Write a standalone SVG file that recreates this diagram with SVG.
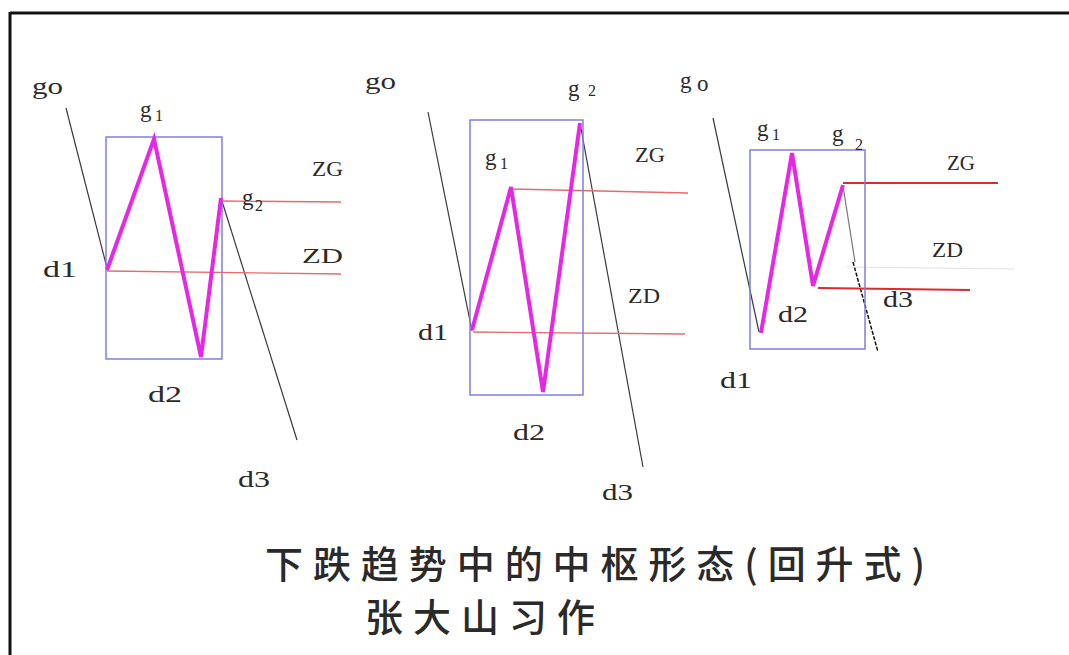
<svg xmlns="http://www.w3.org/2000/svg" width="1069" height="655" viewBox="0 0 1069 655">
<style>
.lbl{font-family:"Liberation Serif","Times New Roman",serif;font-size:23px;fill:#2a2a2a}
.sub{font-family:"Liberation Serif","Times New Roman",serif;font-size:16px;fill:#2a2a2a}
.cap{font-family:"Liberation Serif","Times New Roman",serif;font-size:20px;fill:#2a2a2a}
.box{fill:none;stroke:#7f7fe0;stroke-width:1.5}
.zig{fill:none;stroke:#e628e6;stroke-width:4;stroke-linejoin:miter}
.blk{fill:none;stroke:#3a3a3a;stroke-width:1.2}
.red{fill:none;stroke:#e86a6a;stroke-width:1.3}
.red2{fill:none;stroke:#dd2a2a;stroke-width:2}
.title{font-family:"Noto Sans CJK SC","Noto Sans",sans-serif;font-size:38px;fill:#2a2a2a;font-weight:500}
</style>
<rect width="1069" height="655" fill="#ffffff"/>
<g id="frame">
<line x1="10" y1="13" x2="1069" y2="13" stroke="#111" stroke-width="3"/>
<line x1="10" y1="12" x2="10" y2="655" stroke="#111" stroke-width="3"/>
</g>

<g id="connectors">
<line class="blk" x1="66" y1="108" x2="107" y2="268"/>
<line class="blk" x1="221" y1="198" x2="297" y2="440"/>
<line class="red" x1="222" y1="201" x2="341" y2="202"/>
<line class="red" x1="107" y1="271" x2="341" y2="274"/>
<line class="blk" x1="428" y1="112" x2="472" y2="331"/>
<line class="blk" x1="580" y1="123" x2="643" y2="467"/>
<line class="red" x1="512" y1="189" x2="688" y2="193"/>
<line class="red" x1="473" y1="332" x2="685" y2="334"/>
<line class="blk" x1="713" y1="118" x2="759" y2="332"/>
<line x1="843" y1="186" x2="855" y2="262" stroke="#777" stroke-width="1.2"/>
<line x1="853" y1="262" x2="878" y2="352" stroke="#111" stroke-width="1.5" stroke-dasharray="4,1.5"/>
<line class="red2" x1="843" y1="183" x2="998" y2="183"/>
<line x1="847" y1="267" x2="1015" y2="269" stroke="#e2e2e2" stroke-width="1.2"/>
<line class="red2" x1="818" y1="288" x2="970" y2="290"/>
</g>

<g id="panel1">
<rect class="box" x="106" y="137" width="116" height="222"/>
<polyline class="zig" points="107,270 154,139 201,357 221,198"/>
<text class="lbl" x="32" y="94" textLength="31" lengthAdjust="spacingAndGlyphs">go</text>
<text class="lbl" x="140" y="117">g</text><text class="sub" x="155" y="121">1</text>
<text class="cap" x="312" y="176" textLength="31" lengthAdjust="spacingAndGlyphs">ZG</text>
<text class="lbl" x="242" y="205">g</text><text class="sub" x="255" y="211">2</text>
<text class="cap" x="302" y="263" textLength="41" lengthAdjust="spacingAndGlyphs">ZD</text>
<text class="lbl" x="43" y="277" textLength="34" lengthAdjust="spacingAndGlyphs">d1</text>
<text class="lbl" x="148" y="402" textLength="34" lengthAdjust="spacingAndGlyphs">d2</text>
<text class="lbl" x="238" y="487" textLength="32" lengthAdjust="spacingAndGlyphs">d3</text>
</g>

<g id="panel2">
<rect class="box" x="470" y="120" width="113" height="275"/>
<polyline class="zig" points="472,330 511,187 543,392 580,123"/>
<text class="lbl" x="365" y="89" textLength="31" lengthAdjust="spacingAndGlyphs">go</text>
<text class="lbl" x="568" y="96">g</text><text class="sub" x="588" y="96" font-size="19">2</text>
<text class="lbl" x="485" y="165">g</text><text class="sub" x="500" y="169">1</text>
<text class="cap" x="635" y="162" textLength="30" lengthAdjust="spacingAndGlyphs">ZG</text>
<text class="cap" x="628" y="303" textLength="32" lengthAdjust="spacingAndGlyphs">ZD</text>
<text class="lbl" x="418" y="340" textLength="30" lengthAdjust="spacingAndGlyphs">d1</text>
<text class="lbl" x="513" y="440" textLength="32" lengthAdjust="spacingAndGlyphs">d2</text>
<text class="lbl" x="602" y="500" textLength="31" lengthAdjust="spacingAndGlyphs">d3</text>
</g>

<g id="panel3">
<rect class="box" x="750" y="150" width="115" height="199"/>
<polyline class="zig" points="761,333 792,153 813,286 843,185"/>
<text class="lbl" x="680" y="88">g</text><text class="lbl" x="697" y="91" font-size="20">o</text>
<text class="lbl" x="757" y="136">g</text><text class="sub" x="772" y="140">1</text>
<text class="lbl" x="832" y="141">g</text><text class="sub" x="855" y="150" font-size="18">2</text>
<text class="cap" x="947" y="170" textLength="28" lengthAdjust="spacingAndGlyphs">ZG</text>
<text class="cap" x="932" y="257" textLength="31" lengthAdjust="spacingAndGlyphs">ZD</text>
<text class="lbl" x="883" y="307" textLength="30" lengthAdjust="spacingAndGlyphs">d3</text>
<text class="lbl" x="778" y="322" textLength="30" lengthAdjust="spacingAndGlyphs">d2</text>
<text class="lbl" x="720" y="388" textLength="32" lengthAdjust="spacingAndGlyphs">d1</text>
</g>

<g id="title">
<text class="title" x="265" y="578" textLength="660" lengthAdjust="spacing">下跌趋势中的中枢形态(回升式)</text>
<text class="title" x="365" y="631" textLength="230" lengthAdjust="spacing">张大山习作</text>
</g>
</svg>
